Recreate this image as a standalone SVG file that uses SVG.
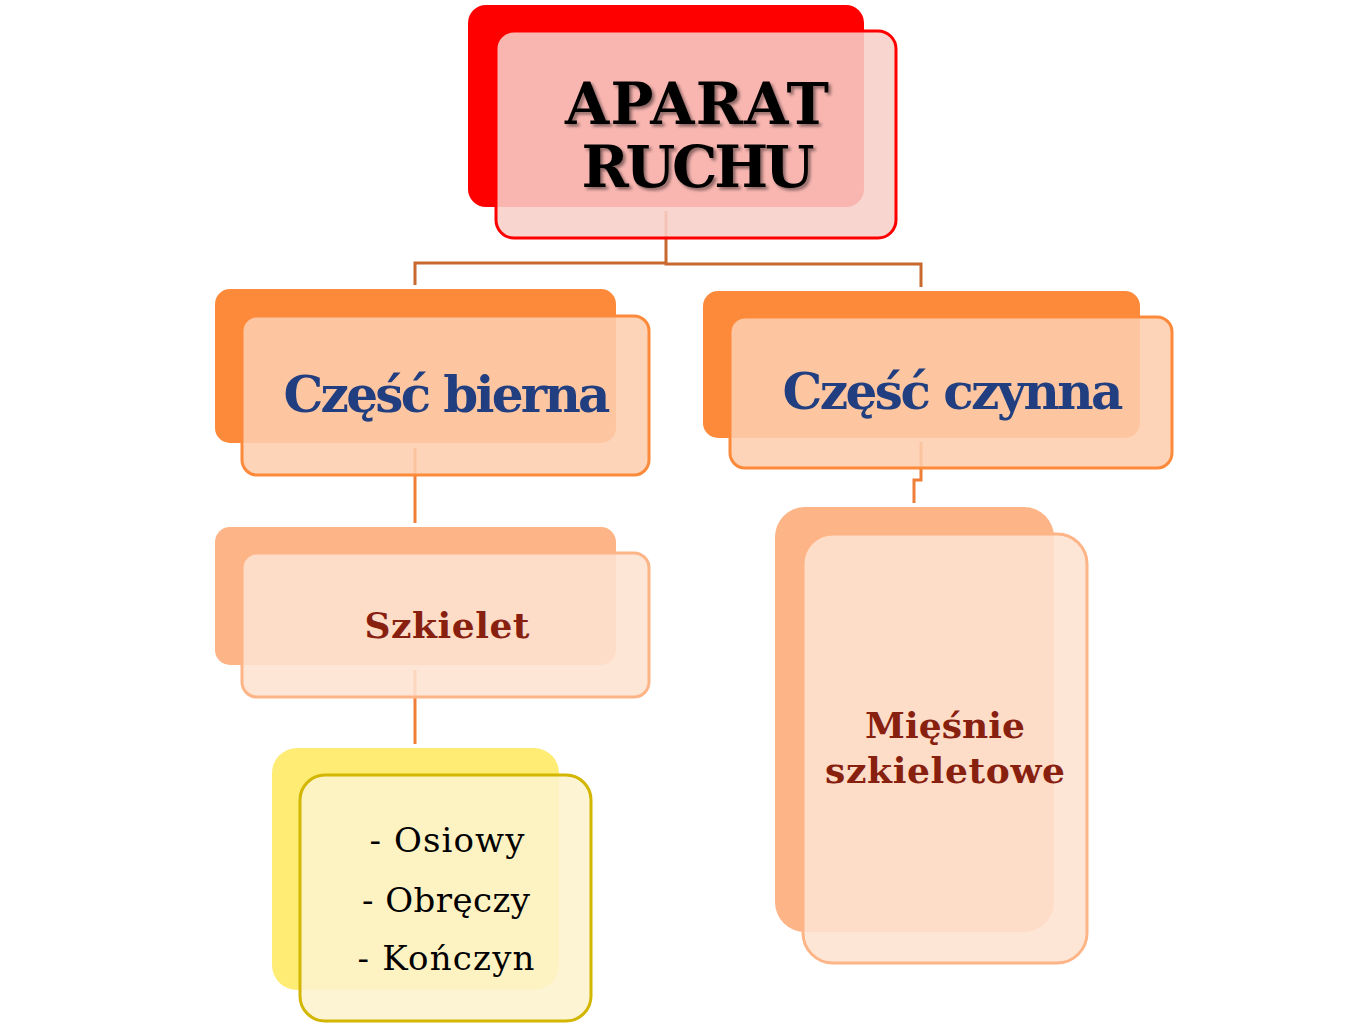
<svg xmlns="http://www.w3.org/2000/svg" width="1362" height="1025" viewBox="0 0 1362 1025">
<defs>
<filter id="sh" x="-10%" y="-20%" width="120%" height="140%">
<feDropShadow dx="2.5" dy="2.5" stdDeviation="1.5" flood-color="#000" flood-opacity="0.45"/>
</filter>
</defs>
<style>
.t{font-family:"DejaVu Serif","Liberation Serif",serif;font-weight:bold;text-anchor:middle}
.r{font-family:"DejaVu Serif","Liberation Serif",serif;text-anchor:middle;fill:#000}
.blue{fill:#213F80}
.dred{fill:#88200F}
.c1{fill:none;stroke:#C8692F;stroke-width:3}
.c2{fill:none;stroke:#EF7F38;stroke-width:3}
</style>
<rect width="1362" height="1025" fill="#fff"/>
<g id="connectors">
<path class="c1" d="M666 211 V263 H415 V285"/>
<path class="c1" d="M666 263 V264 H921 V287"/>
<path class="c2" d="M415 448 V523"/>
<path class="c2" d="M921 442 V480 H914 V503"/>
<path class="c2" d="M415 670 V744"/>
</g>
<g id="node-aparat">
<rect x="468" y="5" width="396" height="202" rx="18" fill="#FF0000"/>
<rect x="496" y="31" width="400" height="207" rx="18" fill="#F8CFC9" fill-opacity="0.88" stroke="#FF0000" stroke-width="3"/>
<g filter="url(#sh)">
<text class="t" x="697" y="124" font-size="57" fill="#000" textLength="264">APARAT</text>
<text class="t" x="698" y="187" font-size="57" fill="#000" textLength="233">RUCHU</text>
</g>
</g>
<g id="node-bierna">
<rect x="215" y="289" width="401" height="154" rx="15" fill="#FD8A3A"/>
<rect x="242" y="316" width="407" height="159" rx="15" fill="#FDCEAE" fill-opacity="0.88" stroke="#FD8A3A" stroke-width="3"/>
<text class="t blue" x="447" y="412" font-size="50" textLength="327">Część bierna</text>
</g>
<g id="node-czynna">
<rect x="703" y="291" width="437" height="147" rx="15" fill="#FD8A3A"/>
<rect x="730" y="317" width="442" height="151" rx="15" fill="#FDCEAE" fill-opacity="0.88" stroke="#FD8A3A" stroke-width="3"/>
<text class="t blue" x="953" y="409" font-size="50" textLength="341">Część czynna</text>
</g>
<g id="node-szkielet">
<rect x="215" y="527" width="401" height="138" rx="15" fill="#FDB486"/>
<rect x="242" y="553" width="407" height="144" rx="15" fill="#FEE2D2" fill-opacity="0.88" stroke="#FDB486" stroke-width="3"/>
<text class="t dred" x="447" y="638" font-size="36" textLength="165">Szkielet</text>
</g>
<g id="node-lista">
<rect x="272" y="748" width="287" height="242" rx="25" fill="#FEEC75"/>
<rect x="300" y="775" width="291" height="246" rx="25" fill="#FDF3CD" fill-opacity="0.88" stroke="#D2B600" stroke-width="3"/>
<text class="r" x="447" y="852" font-size="34" textLength="155">- Osiowy</text>
<text class="r" x="446" y="912" font-size="34" textLength="168">- Obręczy</text>
<text class="r" x="446" y="970" font-size="34" textLength="177">- Kończyn</text>
</g>
<g id="node-miesnie">
<rect x="775" y="507" width="279" height="425" rx="30" fill="#FDB486"/>
<rect x="803" y="534" width="284" height="429" rx="30" fill="#FEE2D2" fill-opacity="0.88" stroke="#FDB486" stroke-width="3"/>
<text class="t dred" x="945" y="738" font-size="36" textLength="160">Mięśnie</text>
<text class="t dred" x="945" y="783" font-size="36" textLength="240">szkieletowe</text>
</g>
</svg>
